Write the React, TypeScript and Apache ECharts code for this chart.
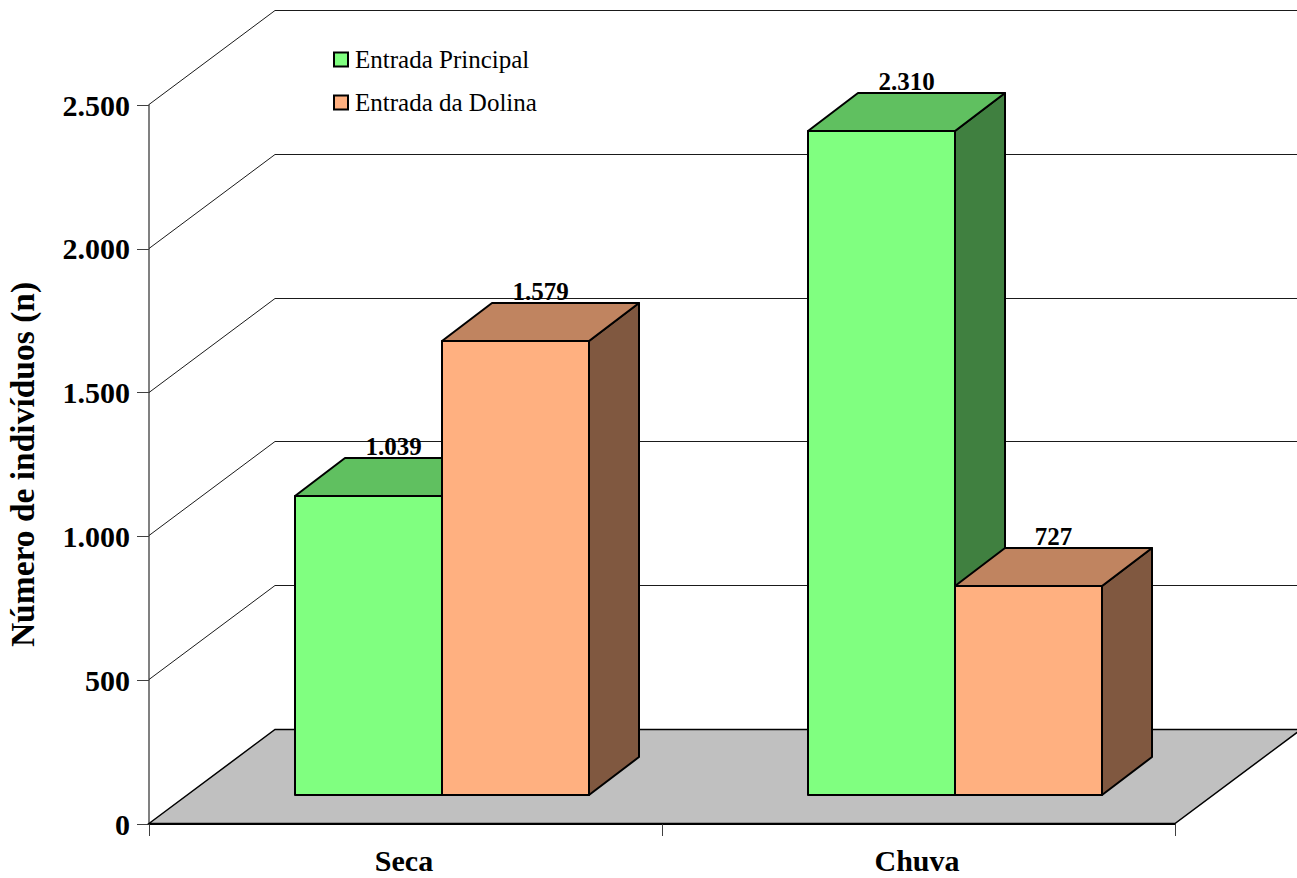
import React, { useEffect, useRef } from "react";
import * as echarts from "echarts";

const categories = ["Seca", "Chuva"];
const seriesNames = ["Entrada Principal", "Entrada da Dolina"];
const entradaPrincipal = [1039, 2310];
const entradaDolina = [1579, 727];
const yTicks = [0, 500, 1000, 1500, 2000, 2500];

const FONT = '"Liberation Serif", "Times New Roman", serif';

// Oblique projection used for the pseudo-3D look, in pixels.
const WALL_DX = 126;
const WALL_DY = -94;
const FRONT_DX = 36.5;
const FRONT_DY = -29;
const BOX_DX = 50;
const BOX_DY = -38;
const BAR_SHARE = 0.287;

const dotted = (v: number) => String(v).replace(/\B(?=(\d{3})+(?!\d))/g, ".");

// One box per data point: side face, top face, front face and its value label.
function boxRenderer(slot: number, front: string, top: string, side: string) {
  return (_params: any, api: any) => {
    const cat = api.value(0);
    const value = api.value(1);
    const barW = Math.round(api.size([1, 0])[0] * BAR_SHARE);
    const center = api.coord([cat, 0]);
    const head = api.coord([cat, value]);
    const x0 = Math.round(center[0] + FRONT_DX + (slot - 1) * barW);
    const x1 = x0 + barW;
    const yb = Math.round(center[1] + FRONT_DY);
    const yt = Math.round(head[1] + FRONT_DY);
    const edge = { stroke: "#000", lineWidth: 2, lineJoin: "round" };
    return {
      type: "group",
      children: [
        {
          type: "polygon",
          shape: { points: [[x1, yb], [x1 + BOX_DX, yb + BOX_DY], [x1 + BOX_DX, yt + BOX_DY], [x1, yt]] },
          style: { fill: side, ...edge },
        },
        {
          type: "polygon",
          shape: { points: [[x0, yt], [x0 + BOX_DX, yt + BOX_DY], [x1 + BOX_DX, yt + BOX_DY], [x1, yt]] },
          style: { fill: top, ...edge },
        },
        {
          type: "rect",
          shape: { x: x0, y: yt, width: barW, height: yb - yt },
          style: { fill: front, ...edge },
        },
        {
          type: "text",
          style: {
            text: dotted(value),
            x: (x0 + x1) / 2 + BOX_DX / 2,
            y: yt + BOX_DY + 1,
            align: "center",
            verticalAlign: "bottom",
            fill: "#000",
            font: `bold 25px ${FONT}`,
          },
        },
      ],
    };
  };
}

// Floor slab and the gridlines that run up the side wall and along the back wall.
function wallRenderer(_params: any, api: any) {
  const tick = api.value(0);
  const y = api.coord([0, tick])[1];
  const step = api.size([1, 0])[0];
  const left = api.coord([0, tick])[0] - step / 2;
  const right = left + step * categories.length;
  const yy = Math.round(y) - 0.5;
  const xl = Math.round(left);
  const points = [[xl, yy], [xl + WALL_DX, yy + WALL_DY], [right + WALL_DX, yy + WALL_DY]];
  if (tick === 0) {
    return {
      type: "polygon",
      shape: { points: [...points, [right, yy]] },
      style: { fill: "#C0C0C0", stroke: "#000", lineWidth: 1.5 },
    };
  }
  return {
    type: "polyline",
    shape: { points },
    style: { fill: "none", stroke: "#1a1a1a", lineWidth: 1 },
  };
}

function buildOption() {
  return {
    animation: false,
    backgroundColor: "#fff",
    textStyle: { fontFamily: FONT },
    grid: { left: 149, right: 122, top: 105, bottom: 54, containLabel: false, outerBoundsMode: "none" },
    legend: {
      left: 333,
      top: 47,
      padding: 0,
      orient: "vertical",
      itemWidth: 14,
      itemHeight: 14,
      itemGap: 18,
      data: seriesNames,
      icon: "rect",
      selectedMode: false,
      itemStyle: { borderColor: "#000", borderWidth: 2 },
      textStyle: { fontFamily: FONT, fontSize: 25, color: "#000", padding: [0, 0, 0, 2] },
    },
    xAxis: {
      type: "category",
      data: categories,
      axisLine: { lineStyle: { color: "#000", width: 1 } },
      axisTick: { show: true, length: 12, lineStyle: { color: "#404040" } },
      axisLabel: { fontFamily: FONT, fontSize: 30, fontWeight: "bold", color: "#000", margin: 21, padding: [0, 3, 0, 0] },
      splitLine: { show: false },
    },
    yAxis: {
      type: "value",
      min: 0,
      max: 2500,
      interval: 500,
      name: "Número de indivíduos (n)",
      nameLocation: "middle",
      nameGap: 110,
      nameTextStyle: { fontFamily: FONT, fontSize: 33.5, fontWeight: "bold", color: "#000" },
      axisLine: { show: true, lineStyle: { color: "#808080", width: 2 } },
      axisTick: { show: true, length: 12, lineStyle: { color: "#404040" } },
      axisLabel: {
        fontFamily: FONT,
        fontSize: 30,
        fontWeight: "bold",
        color: "#000",
        margin: 19,
        padding: [0, 0, 2, 0],
        formatter: (v: number) => dotted(v),
      },
      splitLine: { show: false },
    },
    series: [
      {
        type: "custom",
        name: "grade",
        silent: true,
        z: 1,
        encode: { y: 0 },
        data: yTicks.map((t) => [t]),
        renderItem: wallRenderer,
      },
      {
        type: "custom",
        name: seriesNames[0],
        silent: true,
        z: 3,
        itemStyle: { color: "#80FF80", borderColor: "#000", borderWidth: 2 },
        encode: { x: 0, y: 1 },
        data: entradaPrincipal.map((v, i) => [i, v]),
        renderItem: boxRenderer(0, "#80FF80", "#60C060", "#408040"),
      },
      {
        type: "custom",
        name: seriesNames[1],
        silent: true,
        z: 4,
        itemStyle: { color: "#FFB080", borderColor: "#000", borderWidth: 2 },
        encode: { x: 0, y: 1 },
        data: entradaDolina.map((v, i) => [i, v]),
        renderItem: boxRenderer(1, "#FFB080", "#C08460", "#805840"),
      },
    ],
  };
}

export default function App() {
  const ref = useRef<HTMLDivElement>(null);
  useEffect(() => {
    const chart = echarts.init(ref.current!, undefined, { renderer: "svg" });
    chart.setOption(buildOption() as any);
    return () => chart.dispose();
  }, []);
  return <div ref={ref} style={{ position: "absolute", left: 0, top: 0, width: 1297, height: 878 }} />;
}
